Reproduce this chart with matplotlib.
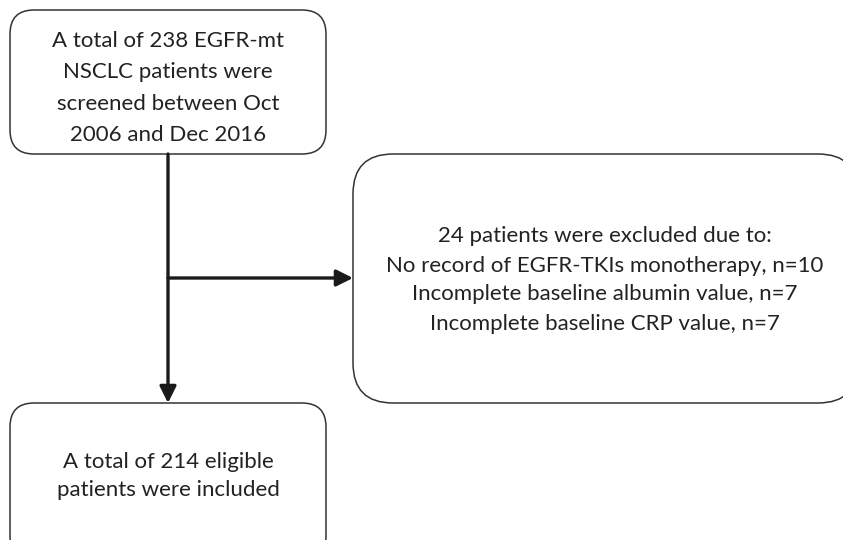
import matplotlib
matplotlib.use("Agg")
import matplotlib.pyplot as plt
from matplotlib.patches import FancyBboxPatch

# box texts
screened_lines = ["A total of 238 EGFR-mt", "NSCLC patients were",
                  "screened between Oct", "2006 and Dec 2016"]
excluded_lines = ["24 patients were excluded due to:",
                  "No record of EGFR-TKIs monotherapy, n=10",
                  "Incomplete baseline albumin value, n=7",
                  "Incomplete baseline CRP value, n=7"]
included_lines = ["A total of 214 eligible", "patients were included"]

plt.rcParams['font.family'] = ['Lato', 'DejaVu Sans']

fig = plt.figure(figsize=(8.43, 5.4), dpi=100)
ax = fig.add_axes([0, 0, 1, 1])
ax.set_xlim(0, 843)
ax.set_ylim(540, 0)
ax.axis("off")


def box(x0, y0, x1, y1, r, lines, cx, cy, spacing):
    ax.add_patch(FancyBboxPatch((x0, y0), x1 - x0, y1 - y0,
                                boxstyle="round,pad=0,rounding_size=%d" % r,
                                fc="white", ec="#333333", lw=1.1))
    n = len(lines)
    for i, line in enumerate(lines):
        y = cy + (i - (n - 1) / 2) * spacing
        ax.text(cx, y, line, ha="center", va="center", fontsize=16, color="#222222")


box(10, 10, 326, 154, 24, screened_lines, 168, 88, 31.5)
box(353, 154, 858, 403, 40, excluded_lines, 605, 280, 29)
box(10, 403, 326, 560, 24, included_lines, 168, 476, 29)

# connectors
ax.annotate("", xy=(168, 403), xytext=(168, 154),
            arrowprops=dict(arrowstyle="-|>,head_length=0.5,head_width=0.25",
                            lw=2.4, color="#1a1a1a",
                            mutation_scale=20, shrinkA=0, shrinkB=0))
ax.annotate("", xy=(353, 278), xytext=(168, 278),
            arrowprops=dict(arrowstyle="-|>,head_length=0.5,head_width=0.25",
                            lw=2.4, color="#1a1a1a",
                            mutation_scale=20, shrinkA=0, shrinkB=0))

fig.savefig("out.png", dpi=100)
